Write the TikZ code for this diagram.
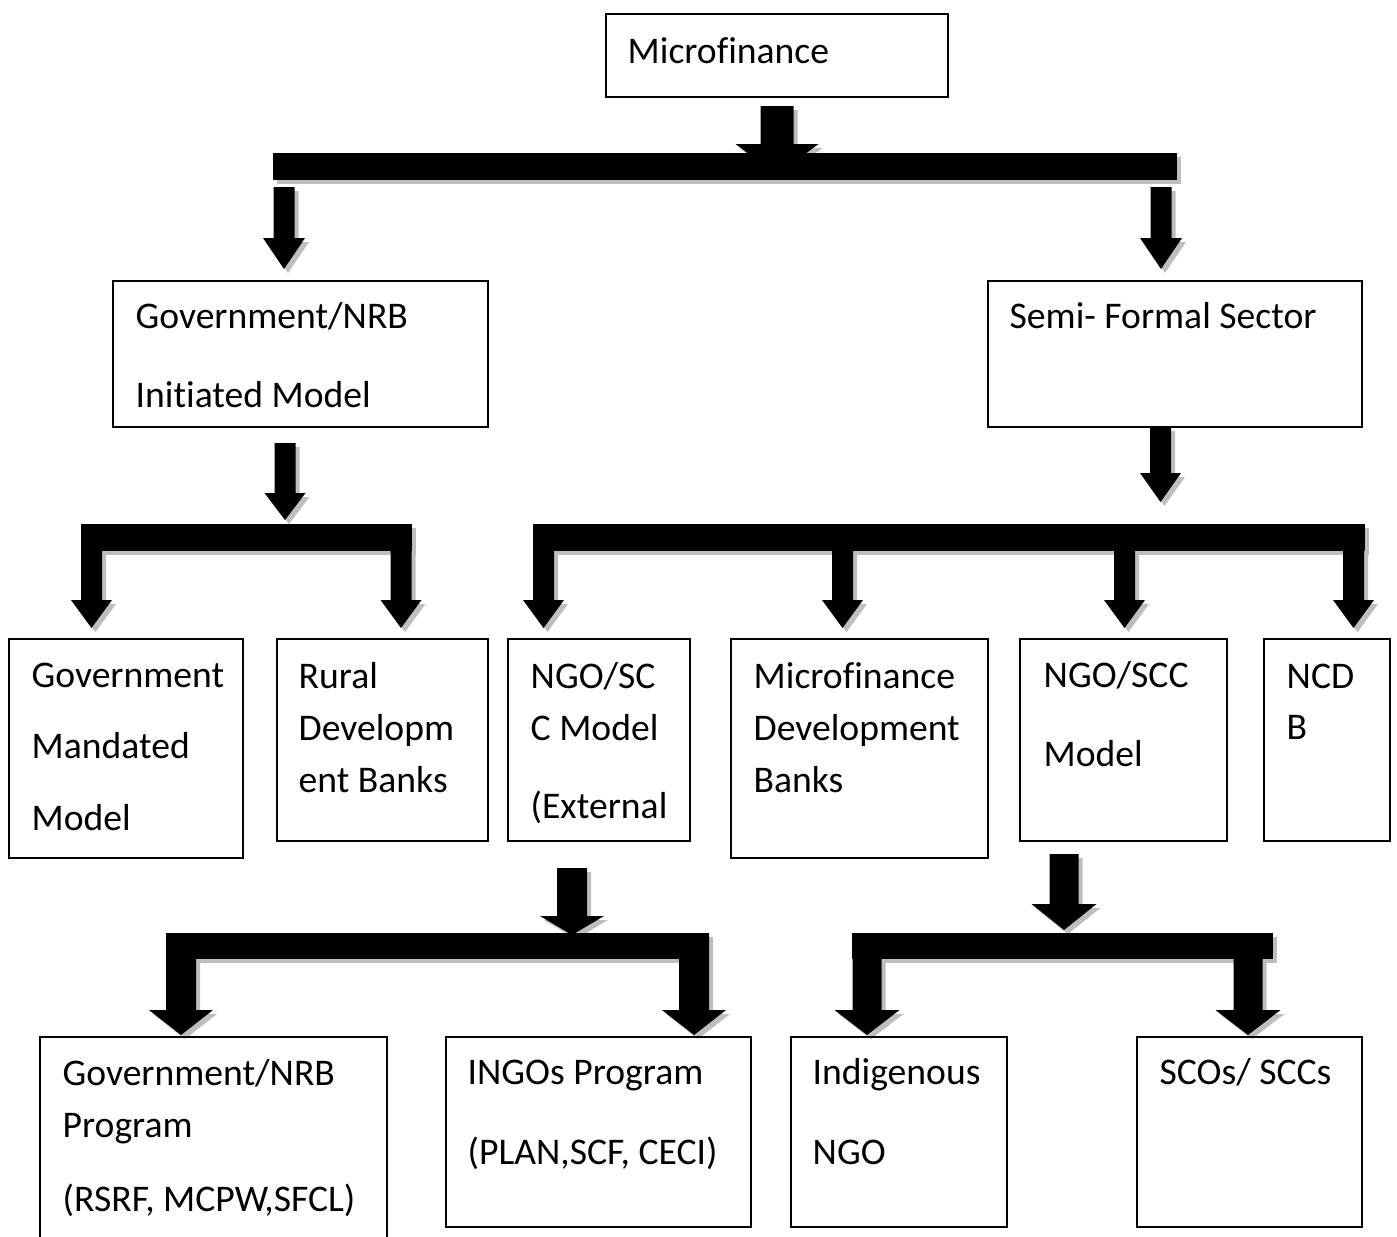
\documentclass[tikz,border=0pt]{standalone}
\usepackage{fontspec}
\setmainfont{Carlito}[Ligatures=NoCommon]
\usetikzlibrary{fit}
\definecolor{shadowgrey}{RGB}{190,190,190}
\tikzset{
    box/.style={draw, line width=0.8pt, inner sep=0pt},
    txt/.style={anchor=base west, inner sep=0pt, font=\fontsize{10.7}{12}\selectfont},
}
\newcommand{\arrowpath}[6]{(#1-#2,#4) -- (#1+#2,#4) -- (#1+#2,#5) -- (#1+#3,#5) -- (#1,#6) -- (#1-#3,#5) -- (#1-#2,#5) -- cycle}

\begin{document}
\begin{tikzpicture}[x=0.01cm, y=-0.01cm]
                \path[use as bounding box, fill=white] (0,0) rectangle (1397,1236);
                \foreach \col/\off in {shadowgrey/4, black/0} {
                    \begin{scope}[shift={(\off,\off)}]
                        \fill[\col] \arrowpath{777}{16.5}{41.5}{106}{144}{175};
                        \fill[\col] (273,153) rectangle (1177,180);
                        \foreach \x in {284,1161} \fill[\col] \arrowpath{\x}{10.5}{21}{187}{238}{269};
                        \fill[\col] \arrowpath{285}{10.5}{20.5}{443}{493}{520};
                        \fill[\col] (81,524) rectangle (412,551);
                        \foreach \x in {91.5,401} \fill[\col] \arrowpath{\x}{10.5}{20.5}{524}{600}{628};
                        \fill[\col] \arrowpath{1160.5}{10.5}{20.5}{427}{473}{502};
                        \fill[\col] (533.5,524) rectangle (1365,551);
                        \foreach \x in {543.5,842.5,1124.5,1353.5} \fill[\col] \arrowpath{\x}{10.5}{20.5}{524}{600}{628};
                        \fill[\col] \arrowpath{572}{15}{32}{868}{916}{935};
                        \fill[\col] (166,933) rectangle (709,959);
                        \foreach \x in {181,694} \fill[\col] \arrowpath{\x}{15}{32}{933}{1010}{1035};
                        \fill[\col] \arrowpath{1064}{14.5}{32.5}{854}{904}{930};
                        \fill[\col] (852,933) rectangle (1273,959);
                        \foreach \x in {867,1248} \fill[\col] \arrowpath{\x}{14.5}{32.5}{933}{1010}{1035};
                    \end{scope}
                }
                \node[box, fit={(606,14) (948,97)}] (mf) {};
                \node[box, fit={(113,281) (488,427)}] (gov) {};
                \node[box, fit={(988,281) (1362,427)}] (semi) {};
                \node[box, fit={(9,639) (243,858)}] (mand) {};
                \node[box, fit={(277,639) (488,841)}] (rural) {};
                \node[box, fit={(508,639) (690,841)}] (ngoext) {};
                \node[box, fit={(731,639) (988,858)}] (mdb) {};
                \node[box, fit={(1020,639) (1227,841)}] (ngoscc) {};
                \node[box, fit={(1264,639) (1390,841)}] (ncdb) {};
                \node[box, fit={(40,1037) (387,1260)}] (govprog) {};
                \node[box, fit={(446,1037) (751,1227)}] (ingo) {};
                \node[box, fit={(791,1037) (1007,1227)}] (indig) {};
                \node[box, fit={(1137,1037) (1362,1227)}] (sco) {};
                \node[txt] (mf-a) at (627,63) {Microfinance};
                \node[txt] (gov-a) at (135,328) {Government/NRB};
                \node[txt] (gov-b) at (135,407) {Initiated Model};
                \node[txt] (semi-a) at (1009,328) {Semi- Formal Sector};
                \node[txt] (mand-a) at (31,687) {Government};
                \node[txt] (mand-b) at (31,758) {Mandated};
                \node[txt] (mand-c) at (31,830) {Model};
                \node[txt] (rural-a) at (298,688) {Rural};
                \node[txt] (rural-b) at (298,740) {Developm};
                \node[txt] (rural-c) at (298,792) {ent Banks};
                \node[txt] (ngoext-a) at (530,688) {NGO/SC};
                \node[txt] (ngoext-b) at (530,740) {C Model};
                \node[txt] (ngoext-c) at (530,818) {(External};
                \node[txt] (mdb-a) at (753,688) {Microfinance};
                \node[txt] (mdb-b) at (753,740) {Development};
                \node[txt] (mdb-c) at (753,792) {Banks};
                \node[txt] (ngoscc-a) at (1043,687) {NGO/SCC};
                \node[txt] (ngoscc-b) at (1043,766) {Model};
                \node[txt] (ncdb-a) at (1286,688) {NCD};
                \node[txt] (ncdb-b) at (1286,739) {B};
                \node[txt] (govprog-a) at (62,1085) {Government/NRB};
                \node[txt] (govprog-b) at (62,1137) {Program};
                \node[txt] (govprog-c) at (62,1211) {(RSRF, MCPW,SFCL)};
                \node[txt] (ingo-a) at (467,1084) {INGOs Program};
                \node[txt] (ingo-b) at (467,1164) {(PLAN,SCF, CECI)};
                \node[txt] (indig-a) at (812,1084) {Indigenous};
                \node[txt] (indig-b) at (812,1164) {NGO};
                \node[txt] (sco-a) at (1159,1084) {SCOs/ SCCs};
            \end{tikzpicture}
\end{document}
